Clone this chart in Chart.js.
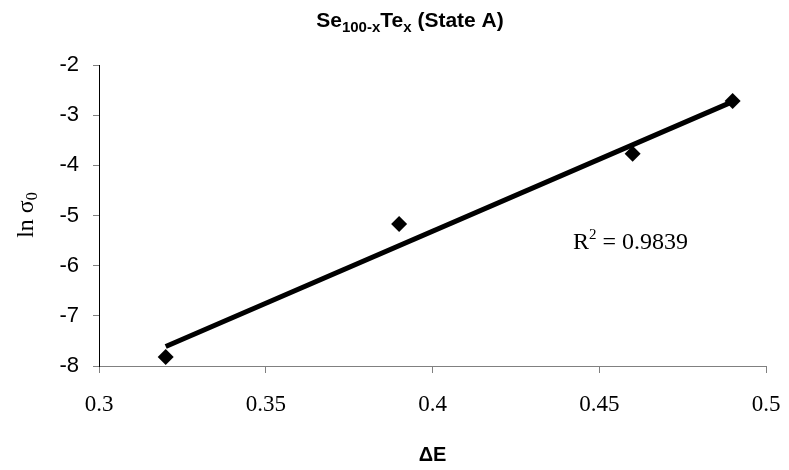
<!DOCTYPE html>
<html><head><meta charset="utf-8">
<script src="https://cdn.jsdelivr.net/npm/chart.js@4/dist/chart.umd.min.js"></script>
<style>html,body{margin:0;padding:0;background:#fff}#wrap{width:789px;height:470px;position:relative}</style>
</head><body><div id="wrap"><canvas id="c" width="789" height="470"></canvas></div>
<script>
// ---- data ----
const deltaE = [0.32, 0.39, 0.46, 0.49];
const lnSigma0 = [-7.82, -5.17, -3.77, -2.72];
const trendX = [0.32, 0.49];
const trendY = [-7.61, -2.73];
const xTicks = [0.3, 0.35, 0.4, 0.45, 0.5];
const xTickLabels = ['0.3', '0.35', '0.4', '0.45', '0.5'];
const yTicks = [-8, -7, -6, -5, -4, -3, -2];
const yTickLabels = ['-8', '-7', '-6', '-5', '-4', '-3', '-2'];
const rSquared = '0.9839';
const titleParts = [['Se', false], ['100-x', true], ['Te', false], ['x', true], [' (State A)', false]];
const yTitleParts = [['ln σ', false], ['0', true]];
const xTitle = 'ΔE';

function drawRich(ctx, parts, x, y, mainFont, subFont, subShift, supMode, align) {
  let total = 0;
  parts.forEach(([t, s]) => { ctx.font = s ? subFont : mainFont; total += ctx.measureText(t).width; });
  let cx = align === 'center' ? x - total / 2 : x;
  parts.forEach(([t, s]) => {
    ctx.font = s ? subFont : mainFont;
    ctx.fillText(t, cx, s ? y + (supMode ? -subShift : subShift) : y);
    cx += ctx.measureText(t).width;
  });
}

const textPlugin = {
  id: 'textPlugin',
  afterDraw(chart) {
    const ctx = chart.ctx;
    ctx.save();
    ctx.fillStyle = '#000';
    ctx.textBaseline = 'alphabetic';
    ctx.textAlign = 'left';
    drawRich(ctx, titleParts, 410, 27, 'bold 21px "Liberation Sans", Arial', 'bold 15px "Liberation Sans", Arial', 5, false, 'center');
    ctx.save();
    ctx.translate(33, 215);
    ctx.rotate(-Math.PI / 2);
    drawRich(ctx, yTitleParts, 0, 0, '24px "Liberation Serif", "Times New Roman"', '16px "Liberation Serif", "Times New Roman"', 4, false, 'center');
    ctx.restore();
    drawRich(ctx, [['R', false], ['2', true], [' = ' + rSquared, false]], 573, 249,
      '24px "Liberation Serif", "Times New Roman"', '15px "Liberation Serif", "Times New Roman"', 10, true, 'left');
    ctx.restore();
  }
};

const points = deltaE.map((x, i) => ({ x, y: lnSigma0[i] }));
const trend = trendX.map((x, i) => ({ x, y: trendY[i] }));

new Chart(document.getElementById('c'), {
  type: 'scatter',
  data: {
    datasets: [
      { label: 'trend', data: trend, showLine: true, borderColor: '#000', borderWidth: 5,
        pointRadius: 0, order: 0, borderCapStyle: 'butt' },
      { label: 'data', data: points, pointStyle: 'rectRot', pointRadius: 8, pointHoverRadius: 8,
        backgroundColor: '#000', borderColor: '#000', borderWidth: 0, order: 1 }
    ]
  },
  options: {
    responsive: false,
    animation: false,
    devicePixelRatio: 1,
    layout: { padding: { left: 0, right: 23, top: 65, bottom: 0 } },
    plugins: { legend: { display: false }, tooltip: { enabled: false }, title: { display: false } },
    scales: {
      x: {
        type: 'linear', min: 0.3, max: 0.5,
        afterFit: s => { s.height = 104; s.paddingLeft = 0; s.paddingRight = 0; },
        afterBuildTicks: s => { s.ticks = xTicks.map(v => ({ value: v })); },
        ticks: {
          callback: (v, i) => xTickLabels[i],
          font: { family: '"Liberation Serif", "Times New Roman"', size: 23 },
          color: '#000', padding: 18, maxRotation: 0, autoSkip: false
        },
        grid: { drawOnChartArea: false, drawTicks: true, tickLength: 7, tickColor: '#808080', color: '#808080' },
        border: { display: true, color: '#808080', width: 1 },
        title: { display: true, text: xTitle, color: '#000',
          font: { family: '"Liberation Sans", Arial', size: 20, weight: 'bold' }, padding: { top: 0, bottom: 3 } }
      },
      y: {
        type: 'linear', min: -8, max: -2,
        afterFit: s => { s.width = 99; s.paddingTop = 0; s.paddingBottom = 0; },
        afterBuildTicks: s => { s.ticks = yTicks.map(v => ({ value: v })); },
        ticks: {
          callback: (v, i) => yTickLabels[i],
          font: { family: '"Liberation Sans", Arial', size: 22 },
          color: '#000', padding: 14
        },
        grid: { drawOnChartArea: false, drawTicks: true, tickLength: 6, tickColor: '#808080', color: '#808080' },
        border: { display: true, color: '#000', width: 1 }
      }
    }
  },
  plugins: [textPlugin]
});
</script>
</body></html>
